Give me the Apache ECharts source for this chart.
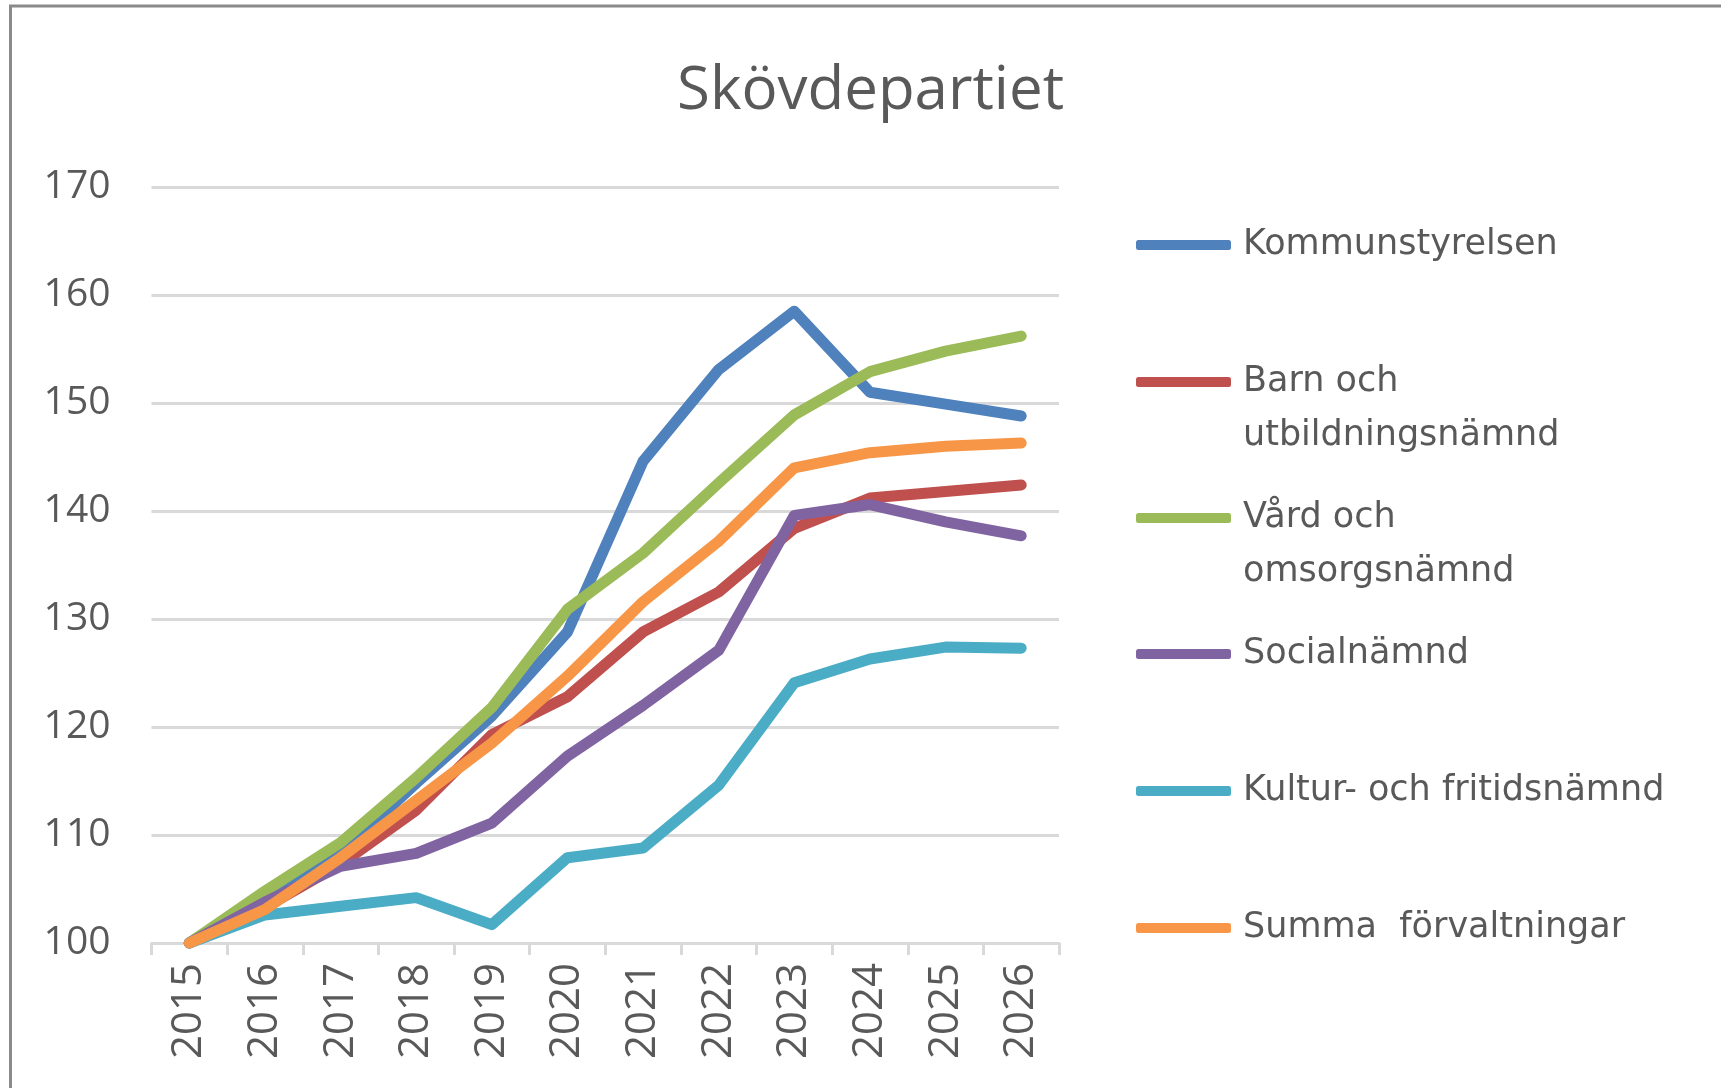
<!DOCTYPE html>
<html>
<head>
<meta charset="utf-8">
<title>Skövdepartiet</title>
<script src="https://cdn.jsdelivr.net/npm/echarts@6/dist/echarts.min.js"></script>
<style>
  html, body { margin: 0; padding: 0; background: #fff; }
  #main { width: 1721px; height: 1088px; }
</style>
</head>
<body>
<div id="main"></div>
<script>
var years = ['2015', '2016', '2017', '2018', '2019', '2020', '2021', '2022', '2023', '2024', '2025', '2026'];

var kommunstyrelsen = [100, 104.4, 108.3, 114.8, 121.0, 128.8, 144.6, 153.1, 158.5, 151.0, 149.9, 148.8];
var barnUtbildning = [100, 103.3, 107.3, 112.3, 119.3, 122.8, 128.8, 132.5, 138.4, 141.2, 141.8, 142.4];
var vardOmsorg = [100, 104.8, 109.3, 115.3, 121.8, 130.9, 136.1, 142.6, 148.9, 152.9, 154.8, 156.2];
var socialnamnd = [100, 103.8, 107.1, 108.3, 111.1, 117.3, 122.0, 127.1, 139.6, 140.6, 139.0, 137.7];
var kulturFritid = [100, 102.6, 103.4, 104.2, 101.7, 107.9, 108.8, 114.6, 124.1, 126.3, 127.4, 127.3];
var summaForvaltningar = [100, 103.1, 107.9, 113.2, 118.5, 124.7, 131.6, 137.2, 144.0, 145.4, 146.0, 146.3];

var names = [
  'Kommunstyrelsen',
  'Barn och\nutbildningsnämnd',
  'Vård och\nomsorgsnämnd',
  'Socialnämnd',
  'Kultur- och fritidsnämnd',
  'Summa  förvaltningar'
];
var colors = ['#4F81BD', '#C0504D', '#9BBB59', '#8064A2', '#4BACC6', '#F79646'];
var values = [kommunstyrelsen, barnUtbildning, vardOmsorg, socialnamnd, kulturFritid, summaForvaltningar];

// legend rows: icon centre y for each entry
var legendY = [245, 382, 518, 654, 791, 928];

var chart = echarts.init(document.getElementById('main'));

var series = names.map(function(name, i) {
  return {
    name: name,
    type: 'line',
    data: values[i],
    symbol: 'none',
    color: colors[i],
    lineStyle: { width: 11, color: colors[i], cap: 'round', join: 'round' },
    emphasis: { disabled: true }
  };
});

// excel puts the icon on the first text line, so two-line names get a blank line in front
var legends = names.map(function(name, i) {
  var twoLines = name.indexOf('\n') >= 0;
  return {
    data: [name],
    orient: 'vertical',
    left: 1136,
    top: legendY[i] - (twoLines ? 81 : 27),
    padding: 0,
    icon: 'roundRect',
    itemWidth: 95,
    itemHeight: 10,
    selectedMode: false,
    formatter: function(n) {
      return n.indexOf('\n') >= 0 ? '\n' + n : n;
    },
    textStyle: {
      fontFamily: 'DejaVu Sans',
      fontSize: 35,
      color: '#595959',
      lineHeight: 54,
      padding: [0, 0, 0, 7]
    }
  };
});

chart.setOption({
  backgroundColor: '#fff',
  animation: false,
  title: {
    text: 'Skövdepartiet',
    left: 677,
    top: 62,
    padding: 0,
    textStyle: {
      fontFamily: 'Open Sans',
      fontWeight: 'normal',
      fontSize: 60,
      color: '#595959'
    }
  },
  legend: legends,
  graphic: [{
    type: 'rect',
    shape: { x: 10.5, y: 6, width: 1800, height: 1200 },
    style: { fill: 'none', stroke: '#8a8a8a', lineWidth: 3 },
    silent: true,
    z: -1
  }],
  grid: { left: 151.5, right: 662, top: 187, bottom: 145, containLabel: false },
  xAxis: {
    type: 'category',
    data: years,
    boundaryGap: true,
    axisLine: { show: true, lineStyle: { color: '#D9D9D9', width: 3 } },
    axisTick: { show: true, length: 12, lineStyle: { color: '#D9D9D9', width: 3 } },
    axisLabel: {
      rotate: 90,
      margin: 20,
      fontFamily: 'Open Sans',
      fontSize: 42,
      color: '#595959'
    },
    splitLine: { show: false }
  },
  yAxis: {
    type: 'value',
    min: 100,
    max: 170,
    interval: 10,
    axisLine: { show: false },
    axisTick: { show: false },
    axisLabel: {
      margin: 41,
      fontFamily: 'Open Sans',
      fontSize: 39,
      color: '#595959'
    },
    splitLine: { show: true, lineStyle: { color: '#D9D9D9', width: 3 } }
  },
  series: series
});
</script>
</body>
</html>
